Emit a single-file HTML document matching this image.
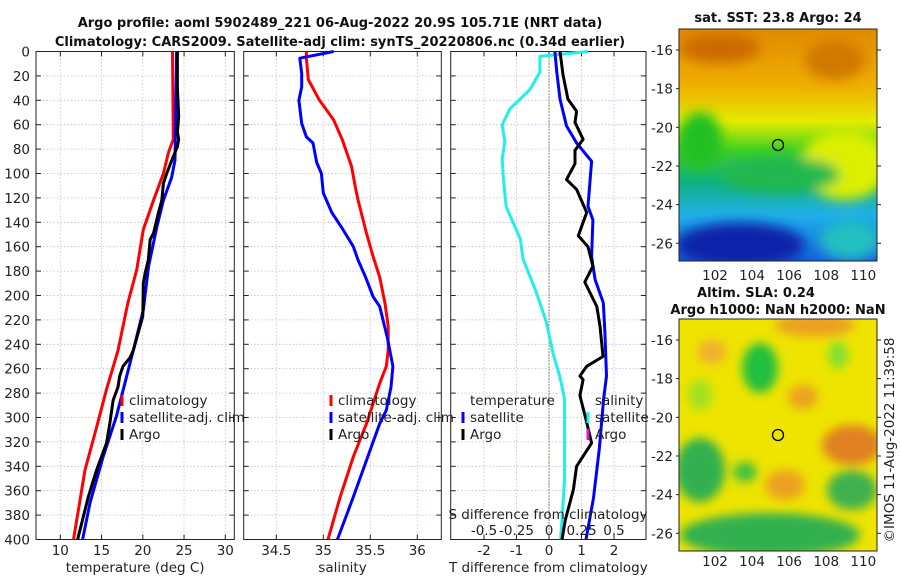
<!DOCTYPE html>
<html><head><meta charset="utf-8"><style>
html,body{margin:0;padding:0;background:#fff;width:900px;height:580px;overflow:hidden}
svg text{font-family:"DejaVu Sans","Liberation Sans",sans-serif;fill:#222}
.t{font-size:13.5px}
.b{font-size:13px;font-weight:bold;fill:#111}
</style></head><body>
<svg id="fig" width="900" height="580" viewBox="0 0 900 580" xmlns="http://www.w3.org/2000/svg">
<defs>
<filter id="blur" x="-50%" y="-50%" width="200%" height="200%"><feGaussianBlur stdDeviation="6"/></filter>
<filter id="blur2" x="-50%" y="-50%" width="200%" height="200%"><feGaussianBlur stdDeviation="5"/></filter>
<clipPath id="c1"><rect x="679" y="29" width="198" height="232"/></clipPath>
<clipPath id="c2"><rect x="679" y="319" width="198" height="232"/></clipPath>
<linearGradient id="sst" x1="0" y1="0" x2="0" y2="1">
<stop offset="0" stop-color="#e08a00"/><stop offset="0.25" stop-color="#f0b000"/><stop offset="0.4" stop-color="#e4ec00"/><stop offset="0.52" stop-color="#40d020"/><stop offset="0.66" stop-color="#10b080"/><stop offset="0.8" stop-color="#20b0e8"/><stop offset="1" stop-color="#1460e0"/>
</linearGradient>
</defs>
<text class="b" x="340" y="27" text-anchor="middle">Argo profile: aoml 5902489_221 06-Aug-2022 20.9S 105.71E (NRT data)</text>
<text class="b" x="340" y="46" text-anchor="middle">Climatology: CARS2009. Satellite-adj clim: synTS_20220806.nc (0.34d earlier)</text>
<g id="p1"></g>
<g id="p2"></g>
<g id="p3"></g>

<g>
<text class="b" x="778" y="22" text-anchor="middle">sat. SST: 23.8 Argo: 24</text>
<g clip-path="url(#c1)">
<rect x="679" y="29" width="198" height="232" fill="url(#sst)"/>
<g filter="url(#blur)">
<ellipse cx="720" cy="48" rx="40" ry="15" fill="#cc6a00"/>
<ellipse cx="835" cy="60" rx="30" ry="20" fill="#d07800"/>
<ellipse cx="845" cy="165" rx="45" ry="35" fill="#dcef00"/>
<ellipse cx="700" cy="140" rx="22" ry="28" fill="#20c020"/>
<ellipse cx="780" cy="175" rx="60" ry="18" fill="#20b850"/>
<ellipse cx="740" cy="245" rx="65" ry="22" fill="#0a20a8"/>
<ellipse cx="850" cy="240" rx="30" ry="20" fill="#20c0c0"/>
</g>
</g>
<rect x="679" y="29" width="198" height="232" fill="none" stroke="#222"/>
<circle cx="778" cy="145" r="5.5" fill="none" stroke="#000" stroke-width="1.3"/>
<g id="m1ticks"></g>
</g>

<g>
<text class="b" x="756" y="297" text-anchor="middle">Altim. SLA: 0.24</text>
<text class="b" x="778" y="314" text-anchor="middle">Argo h1000: NaN h2000: NaN</text>
<g clip-path="url(#c2)">
<rect x="679" y="319" width="198" height="232" fill="#eee400"/>
<g filter="url(#blur2)">
<ellipse cx="815" cy="325" rx="40" ry="12" fill="#eca020"/>
<ellipse cx="852" cy="445" rx="30" ry="20" fill="#e08020"/>
<ellipse cx="785" cy="485" rx="20" ry="15" fill="#eca020"/>
<ellipse cx="803" cy="397" rx="15" ry="12" fill="#eca020"/>
<ellipse cx="712" cy="352" rx="15" ry="12" fill="#f0b030"/>
<ellipse cx="760" cy="368" rx="18" ry="25" fill="#20c040"/>
<ellipse cx="700" cy="470" rx="25" ry="32" fill="#30b050"/>
<ellipse cx="770" cy="535" rx="90" ry="22" fill="#30b050"/>
<ellipse cx="852" cy="490" rx="25" ry="20" fill="#40b050"/>
<ellipse cx="700" cy="395" rx="12" ry="15" fill="#a0e020"/>
<ellipse cx="838" cy="355" rx="10" ry="14" fill="#80e030"/>
<ellipse cx="745" cy="472" rx="12" ry="10" fill="#40c040"/>
</g>
</g>
<rect x="679" y="319" width="198" height="232" fill="none" stroke="#222"/>
<circle cx="778" cy="435" r="5.5" fill="none" stroke="#000" stroke-width="1.3"/>
<g id="m2ticks"></g>
</g>
<text class="t" transform="translate(894,440) rotate(-90)" text-anchor="middle" font-size="13.5">©IMOS 11-Aug-2022 11:39:58</text>
</svg>
<script>
// ---- data ----
const climTDepth=[0,72,83,100,122,146,179,206,245,277,308,343,400];
const climT=[23.6,23.7,23.1,22.5,21.3,20.06,19.26,18.2,17.0,15.6,14.4,13.0,11.6];
const satTDepth=[0,45,89,103,122,144,176,212,245,261,299,332,370,400];
const satT=[24.1,24.0,23.9,23.5,22.5,21.7,20.7,20.06,18.85,18.24,16.8,15.2,13.6,12.7];
const argoTDepth=[0,30,53,66,72,78,86,100,108,122,132,149,154,171,181,190,217,245,251,258,266,275,286,305,321,343,365,400];
const argoT=[24.2,24.2,24.35,24.2,24.35,24.2,23.7,22.9,22.5,22.3,21.9,21.3,20.9,20.67,20.3,20.06,20.0,18.85,18.45,17.6,17.2,17.0,16.4,16.0,15.6,14.4,13.4,12.1];
const climSDepth=[0,6,23,40,56,72,94,111,122,149,168,185,206,225,245,258,272,305,332,365,400];
const climS=[34.82,34.82,34.84,34.96,35.11,35.2,35.3,35.34,35.37,35.46,35.53,35.6,35.655,35.69,35.69,35.67,35.6,35.46,35.32,35.18,35.05];
const satSDepth=[0,5.5,18,29,40,59,70,75,91,100,116,132,146,160,171,185,201,209,234,258,275,294,305,335,365,400];
const satS=[35.11,34.75,34.77,34.77,34.74,34.77,34.82,34.89,34.93,34.98,35.0,35.09,35.21,35.32,35.37,35.45,35.53,35.6,35.68,35.74,35.72,35.67,35.6,35.46,35.32,35.15];
const satDSDepth=[0,4,17,31,47,60,74,88,105,127,154,170,198,222,247,267,285,350,400];
const satDS=[0.3,-0.07,-0.07,-0.145,-0.3,-0.36,-0.34,-0.36,-0.35,-0.33,-0.22,-0.2,-0.095,-0.02,0.03,0.085,0.12,0.12,0.09];
const satDTDepth=[0,17,39,61,75,90,127,138,168,187,206,230,266,285,325,366,400];
const satDT=[0.18,0.24,0.34,0.54,0.85,1.31,1.2,1.35,1.31,1.42,1.67,1.72,1.77,1.68,1.55,1.37,1.14];
const argoDTDepth=[0,19,39,49,58,72,81,92,105,113,132,151,160,176,189,209,225,250,258,266,269,282,304,321,340,359,384,400];
const argoDT=[0.34,0.43,0.58,0.85,0.8,1.05,0.8,0.8,0.54,0.85,1.16,0.9,1.2,1.35,1.1,1.47,1.57,1.66,1.16,0.95,1.05,0.95,1.16,1.31,0.85,0.75,0.5,0.4];
const depthTicks=[0,20,40,60,80,100,120,140,160,180,200,220,240,260,280,300,320,340,360,380,400];
const tTicks=[10,15,20,25,30];
const sTicks=[34.5,35,35.5,36];
const dtTicks=[-2,-1,0,1,2];
const dsTicks=[-0.5,-0.25,0,0.25,0.5];
const dsTickLabels=["-0.5","-0.25","0","0.25","0.5"];
const latTicks=[-16,-18,-20,-22,-24,-26];
const lonTicks=[102,104,106,108,110];

const NS="http://www.w3.org/2000/svg";
const Y0=51.5,Y1=539.5;
function yD(d){return Y0+(Y1-Y0)*d/400;}
function mk(p,tag,at){const e=document.createElementNS(NS,tag);for(const k in at)e.setAttribute(k,at[k]);p.appendChild(e);return e;}
function lin(d0,d1,r0,r1){return v=>r0+(v-d0)/(d1-d0)*(r1-r0);}

function panel(g,x0,x1,sx,xt,xtl,xlabel,yLabels){
  depthTicks.forEach(d=>{const y=yD(d);
    const gl=mk(g,'line',{x1:x0,x2:x1,y1:y,y2:y,stroke:'#b4bce6','stroke-dasharray':'1.5,2','stroke-width':0.8});
    
    
    mk(g,'line',{x1:x0,x2:x0+5,y1:y,y2:y,stroke:'#222'});
    mk(g,'line',{x1:x1-5,x2:x1,y1:y,y2:y,stroke:'#222'});
    if(yLabels){const t=mk(g,'text',{x:x0-6,y:y+5,'text-anchor':'end',class:'t'});t.textContent=d;
      
      }
  });
  xt.forEach((v,i)=>{const x=sx(v);
    mk(g,'line',{x1:x,x2:x,y1:Y0,y2:Y1,stroke:'#e0b8b0','stroke-dasharray':'1.5,2','stroke-width':0.8});
    mk(g,'line',{x1:x,x2:x,y1:Y1-5,y2:Y1,stroke:'#222'});
    mk(g,'line',{x1:x,x2:x,y1:Y0,y2:Y0+5,stroke:'#222'});
    const t=mk(g,'text',{x:x,y:555,'text-anchor':'middle',class:'t'});t.textContent=xtl?xtl[i]:v;
    
    
  });
  mk(g,'rect',{x:x0,y:Y0,width:x1-x0,height:Y1-Y0,fill:'none',stroke:'#222','stroke-width':1});
  const xl=mk(g,'text',{x:(x0+x1)/2,y:572,'text-anchor':'middle',class:'t'});xl.textContent=xlabel;
  
  
}
function series(g,depths,vals,sx,color,name,w){
  const pts=depths.map((d,i)=>sx(vals[i]).toFixed(1)+','+yD(d).toFixed(1)).join(' ');
  const p=mk(g,'polyline',{points:pts,fill:'none',stroke:color,'stroke-width':w||3,'stroke-linejoin':'round'});
  
  
}
function legend(g,x,y,color,label){
  mk(g,'rect',{x:x-1.5,y:y-10,width:3,height:11,fill:color});
  const t=mk(g,'text',{x:x+7,y:y,class:'t'});t.textContent=label;
  
  
}
// Panel 1
const p1=document.getElementById('p1');
const sT=lin(10,30,60.3,225.3);
panel(p1,36,234.3,sT,tTicks,null,'temperature (deg C)',true);
series(p1,climTDepth,climT,sT,'#f00','climatology-temperature-line');
series(p1,satTDepth,satT,sT,'#00f','satellite-temperature-line');
series(p1,argoTDepth,argoT,sT,'#000','argo-temperature-line');
legend(p1,122,405,'#f00','climatology');legend(p1,122,422,'#00f','satellite-adj. clim');legend(p1,122,439,'#000','Argo');
// Panel 2
const p2=document.getElementById('p2');
const sS=lin(35,35.5,323.3,370.3);
panel(p2,243.7,441.3,sS,sTicks,null,'salinity',false);
series(p2,climSDepth,climS,sS,'#f00','climatology-salinity-line');
series(p2,satSDepth,satS,sS,'#00f','satellite-salinity-line');
legend(p2,331,405,'#f00','climatology');legend(p2,331,422,'#00f','satellite-adj. clim');legend(p2,331,439,'#000','Argo');
// Panel 3
const p3=document.getElementById('p3');
const sDT=lin(0,1,549,581.5);
const sDS=lin(0,0.25,549,581.5);
panel(p3,450.7,646,sDT,dtTicks,null,'T difference from climatology',false);
const z=mk(p3,'line',{x1:549,x2:549,y1:Y0,y2:Y1,stroke:'#4a5a20','stroke-dasharray':'1,2','stroke-width':1.2});


series(p3,satDSDepth,satDS,sDS,'#22eeee','satellite-salinity-difference-line');
series(p3,satDTDepth,satDT,sDT,'#00f','satellite-temperature-difference-line');
series(p3,argoDTDepth,argoDT,sDT,'#000','argo-temperature-difference-line');
const lt=mk(p3,'text',{x:470,y:405,class:'t'});lt.textContent='temperature';


const ls=mk(p3,'text',{x:595,y:405,class:'t'});ls.textContent='salinity';


legend(p3,463,422,'#00f','satellite');legend(p3,463,439,'#000','Argo');
legend(p3,588,422,'#22eeee','satellite');legend(p3,588,439,'#e010e0','Argo');
const sdl=mk(p3,'text',{x:548,y:519,'text-anchor':'middle',class:'t'});sdl.textContent='S difference from climatology';


dsTicks.forEach((v,i)=>{const t=mk(p3,'text',{x:sDS(v),y:535,'text-anchor':'middle',class:'t'});t.textContent=dsTickLabels[i];
  
  });
// Map ticks
function mapTicks(id,yTop,lat16,lat26,lonY){
  const g=document.getElementById(id);
  const sy=lin(-16,-26,lat16,lat26), sx=lin(102,110,715,863.3);
  latTicks.forEach(v=>{const y=sy(v);
    mk(g,'line',{x1:679,x2:676,y1:y,y2:y,stroke:'#222'});
    mk(g,'line',{x1:877,x2:881,y1:y,y2:y,stroke:'#222'});
    const t=mk(g,'text',{x:673,y:y+5,'text-anchor':'end',class:'t'});t.textContent=v;
    
    });
  lonTicks.forEach(v=>{const x=sx(v);
    const t=mk(g,'text',{x:x,y:lonY,'text-anchor':'middle',class:'t'});t.textContent=v;
    
    });
}
mapTicks('m1ticks',29,50,243.3,280);
mapTicks('m2ticks',319,340,533.3,566);
</script>
</body></html>
